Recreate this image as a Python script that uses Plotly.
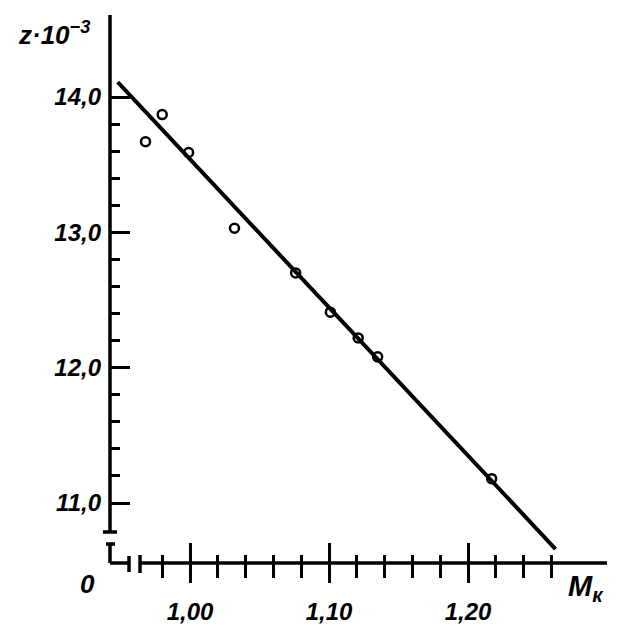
import plotly.graph_objects as go

# ---- data ----
mk_points = [0.968, 0.980, 0.999, 1.032, 1.076, 1.101, 1.121, 1.135, 1.217]
z_points = [13.67, 13.87, 13.59, 13.03, 12.70, 12.41, 12.22, 12.08, 11.18]

fit_mk = [0.948, 1.263]
fit_z = [14.11, 10.66]

x_major = [1.00, 1.10, 1.20]
x_major_text = ["1,00", "1,10", "1,20"]
x_minor = [0.98, 1.02, 1.04, 1.06, 1.08, 1.12, 1.14, 1.16, 1.18, 1.22, 1.24, 1.26]

y_major = [11.0, 12.0, 13.0, 14.0]
y_major_text = ["11,0", "12,0", "13,0", "14,0"]
y_minor = [11.2, 11.4, 11.6, 11.8, 12.2, 12.4, 12.6, 12.8, 13.2, 13.4, 13.6, 13.8]

# ---- layout geometry (page pixels; page body has an 8px margin) ----
OFF = 8
W, H = 630 - OFF, 633 - OFF
L, R, T, B = 110, 607, 15, 563          # plot area in page pixels
X_RANGE = [0.94245, 1.3]
Y_RANGE = [10.5566, 14.606]

FONT = "Liberation Sans"


def px(xp):
    return (xp - L) / (R - L)


def py(yp):
    return (B - yp) / (B - T)


fig = go.Figure()

fig.add_trace(go.Scatter(
    x=fit_mk, y=fit_z, mode="lines",
    line=dict(color="black", width=4),
    showlegend=False, hoverinfo="skip",
))
fig.add_trace(go.Scatter(
    x=mk_points, y=z_points, mode="markers",
    marker=dict(symbol="circle-open", size=9, color="black",
                line=dict(color="black", width=2.5)),
    showlegend=False,
))
# invisible trace on the overlay axis so it is drawn
fig.add_trace(go.Scatter(
    x=[fit_mk[0]], y=[fit_z[0]], xaxis="x2", mode="markers",
    marker=dict(opacity=0), showlegend=False, hoverinfo="skip",
))

tickfont = dict(family=FONT, size=24, color="black", style="italic",
                weight="bold")

fig.update_layout(
    width=W, height=H,
    margin=dict(l=L - OFF, r=630 - R, t=T - OFF, b=633 - B, pad=0,
                autoexpand=False),
    paper_bgcolor="white", plot_bgcolor="white",
    xaxis=dict(
        range=X_RANGE, showgrid=False, zeroline=False, showline=False,
        automargin=False,
        tickmode="array", tickvals=x_major, ticktext=x_major_text,
        ticks="outside", ticklen=19, tickwidth=3, tickcolor="black",
        tickfont=tickfont, ticklabelstandoff=8,
        minor=dict(tickmode="array", tickvals=x_minor, ticks="outside",
                   ticklen=14, tickwidth=3, tickcolor="black", showgrid=False),
    ),
    xaxis2=dict(
        range=X_RANGE, overlaying="x", side="bottom", anchor="y",
        automargin=False,
        showgrid=False, zeroline=False, showline=False, showticklabels=False,
        tickmode="array", tickvals=x_major,
        ticks="inside", ticklen=20, tickwidth=3, tickcolor="black",
        minor=dict(tickmode="array", tickvals=x_minor, ticks="inside",
                   ticklen=8, tickwidth=3, tickcolor="black", showgrid=False),
    ),
    yaxis=dict(
        range=Y_RANGE, showgrid=False, zeroline=False, showline=False,
        automargin=False,
        tickmode="array", tickvals=y_major, ticktext=y_major_text,
        ticks="inside", ticklen=20, tickwidth=3, tickcolor="black",
        tickfont=tickfont, ticklabelstandoff=8,
        minor=dict(tickmode="array", tickvals=y_minor, ticks="inside",
                   ticklen=10, tickwidth=3, tickcolor="black", showgrid=False),
    ),
)

ax = dict(color="black", width=3.5)
segments = [
    (px(110), py(532), px(110), py(15)),   # y axis
    (px(103), py(532), px(117), py(532)),  # upper break cap
    (px(106), py(544), px(115), py(544)),  # lower break cap
    (px(110), py(544), px(110), py(563)),  # short y stub
    (px(110), py(563), px(129), py(563)),  # short x stub
    (px(129), py(556), px(129), py(572)),  # x break cap left
    (px(140), py(555), px(140), py(573)),  # x break cap right
    (px(140), py(563), px(607), py(563)),  # x axis
]
for x0, y0, x1, y1 in segments:
    fig.add_shape(type="line", xref="paper", yref="paper",
                  x0=x0, y0=y0, x1=x1, y1=y1, line=ax)

ann_font = dict(family=FONT, size=26, color="black", style="italic",
                weight="bold")
fig.add_annotation(xref="paper", yref="paper", x=px(87), y=py(584),
                   xanchor="center", yanchor="middle",
                   text="0", showarrow=False, font=ann_font)
fig.add_annotation(xref="paper", yref="paper", x=px(586), y=py(588),
                   xanchor="center", yanchor="middle",
                   text="M<sub>к</sub>", showarrow=False,
                   font=dict(family=FONT, size=29, color="black",
                             style="italic", weight="bold"))
fig.add_annotation(xref="paper", yref="paper", x=px(16), y=py(34),
                   xanchor="left", yanchor="middle",
                   text="z·10<sup>−3</sup>", showarrow=False, font=ann_font)

fig.write_html("out.html")
